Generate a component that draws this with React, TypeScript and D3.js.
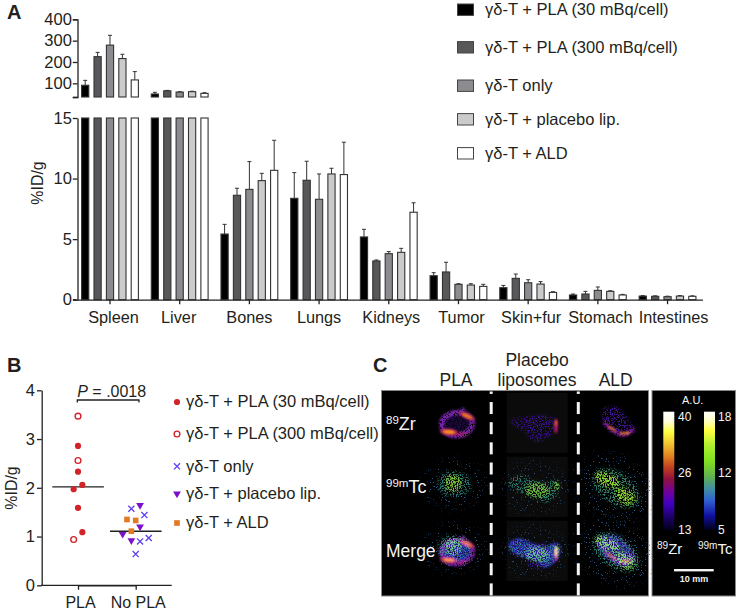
import React, { useEffect, useRef } from "react";
import * as d3 from "d3";

// ---------- data ----------
const organs = ["Spleen", "Liver", "Bones", "Lungs", "Kidneys", "Tumor", "Skin+fur", "Stomach", "Intestines"];
const seriesNames = ["γδ-T + PLA (30 mBq/cell)", "γδ-T + PLA (300 mBq/cell)", "γδ-T only", "γδ-T + placebo lip.", "γδ-T + ALD"];
const barFills = ["#000000", "#58585a", "#8c8c90", "#cbcbcb", "#ffffff"];

const pla30 = [91, 50, 5.42, 8.37, 5.18, 1.98, 0.99, 0.39, 0.3];
const pla300 = [225, 65, 8.62, 9.86, 3.2, 2.29, 1.76, 0.47, 0.28];
const tOnly = [279, 59, 9.11, 8.29, 3.8, 1.27, 1.4, 0.77, 0.25];
const placebo = [216, 61, 9.83, 10.38, 3.91, 1.21, 1.29, 0.69, 0.3];
const ald = [116, 53, 10.68, 10.33, 7.22, 1.1, 0.6, 0.39, 0.28];
const pla30Top = [114, 58, 6.22, 10.49, 5.81, 2.23, 1.18, 0.47, 0.34];
const pla300Top = [245, 67, 9.2, 11.43, 3.28, 3.09, 2.12, 0.69, 0.32];
const tOnlyTop = [325, 61, 11.4, 10.38, 3.97, 1.32, 1.65, 1.05, 0.29];
const placeboTop = [236, 63, 10.43, 10.85, 4.24, 1.32, 1.49, 0.74, 0.34];
const aldTop = [155, 56, 13.16, 13.0, 8.0, 1.27, 0.66, 0.44, 0.32];
const barValues = [pla30, pla300, tOnly, placebo, ald];
const barTops = [pla30Top, pla300Top, tOnlyTop, placeboTop, aldTop];

const upperTicks = [36, 100, 200, 300, 400];
const lowerTicks = [0, 5, 10, 15];
const organLabelNudge = [3.5, -1, 0, 0, 2.5, 3, 3, 2.5, 6];

const scatterCats = ["PLA", "No PLA"];
const scatterTicks = [0, 1, 2, 3, 4];
const scatterMeans = [2.02, 1.11];
const scatterPValue = ".0018";
// [category, swarm slot, value]
const ptsPla30: [string, number, number][] = [["PLA", 0, 2.86], ["PLA", 0, 2.33], ["PLA", 1, 2.06], ["PLA", -1, 1.97], ["PLA", 0, 1.59], ["PLA", 1, 1.09]];
const ptsPla300: [string, number, number][] = [["PLA", 0, 3.47], ["PLA", 0, 2.56], ["PLA", -1, 0.94]];
const ptsOnly: [string, number, number][] = [["No PLA", -1, 1.57], ["No PLA", 2, 1.44], ["No PLA", 1, 0.9], ["No PLA", 3, 0.97], ["No PLA", 0, 0.64]];
const ptsPlacebo: [string, number, number][] = [["No PLA", 1, 1.64], ["No PLA", 1, 1.2], ["No PLA", -3, 1.05], ["No PLA", -1, 0.92]];
const ptsAld: [string, number, number][] = [["No PLA", -2, 1.35], ["No PLA", 0, 1.33], ["No PLA", -1, 1.11]];

const zrStops: [number, string][] = [[0, "#ffffff"], [0.08, "#fffde0"], [0.17, "#ffff40"], [0.28, "#f0c030"], [0.38, "#e08020"], [0.47, "#c04020"], [0.57, "#901040"], [0.68, "#7000a0"], [0.78, "#4000c0"], [0.88, "#200070"], [1, "#000018"]];
const tcStops: [number, string][] = [[0, "#ffffff"], [0.08, "#ffffc0"], [0.16, "#ffff40"], [0.28, "#b0f030"], [0.42, "#80e020"], [0.55, "#60b050"], [0.65, "#4090a0"], [0.75, "#3060d0"], [0.88, "#1010a0"], [1, "#000018"]];
const zrBarLabels = ["40", "26", "13"];
const tcBarLabels = ["18", "12", "5"];

// Sketched shapes of the three imaging columns (the photograph is not data; these are blurred, speckled outlines).
type Blob =
  | { k: "e"; c: [number, number]; r: [number, number]; rot?: number; col: string; f: string; ring?: number }
  | { k: "p"; pts: [number, number][]; col: string; f: string }
  | { k: "l"; pts: [number, number][]; col: string; f: string; w: number };

const zrBlobs: Blob[] = [
  { k: "e", c: [457, 424], r: [15, 11], col: "#1a0838", f: "dense1" },
  { k: "e", c: [457, 424], r: [15.5, 11.5], rot: -5, col: "#7a24b0", f: "dense05", ring: 5.5 },
  { k: "e", c: [463, 410.5], r: [2.5, 3], col: "#6a28a0", f: "dense05" },
  { k: "e", c: [461, 434], r: [7, 2], col: "#a01c70", f: "dense05" },
  { k: "e", c: [449, 432], r: [9, 3.2], rot: 5, col: "#b82860", f: "soft" },
  { k: "e", c: [449, 432], r: [6, 1.8], rot: 5, col: "#ffa010", f: "soft" },
  { k: "e", c: [467, 416], r: [8.5, 2.8], rot: 25, col: "#b02860", f: "soft" },
  { k: "e", c: [467, 416], r: [5.5, 1.5], rot: 25, col: "#f08c10", f: "soft" },
  { k: "p", pts: [[510, 421], [530, 416], [552, 417], [556, 428], [547, 438], [535, 442], [524, 432]], col: "#38108a", f: "sparse05" },
  { k: "e", c: [556, 426], r: [1.8, 7.5], col: "#b81c70", f: "soft" },
  { k: "e", c: [556, 423], r: [0.9, 3], col: "#f07820", f: "soft" },
  { k: "p", pts: [[603, 409], [617, 407], [628, 419], [634, 430], [625, 435], [613, 431], [604, 424]], col: "#401490", f: "sparse05" },
  { k: "l", pts: [[605, 423], [612, 430], [624, 434.5], [633, 430]], col: "#7a1a98", f: "dense05", w: 4.5 },
  { k: "l", pts: [[609, 426.5], [615, 430.5]], col: "#e87c18", f: "soft", w: 2 },
  { k: "l", pts: [[621, 433.5], [629, 433]], col: "#f09018", f: "soft", w: 2.2 },
];
const tcBlobs: Blob[] = [
  { k: "e", c: [454, 484], r: [33, 25], col: "#2a5a98", f: "faint" },
  { k: "e", c: [454, 484], r: [17, 13], col: "#2a7a78", f: "sparse05" },
  { k: "e", c: [453, 483], r: [8.5, 8.5], col: "#78c038", f: "mid" },
  { k: "e", c: [535, 487], r: [34, 27], col: "#2a5a98", f: "faint" },
  { k: "p", pts: [[508, 482], [518, 475], [542, 482], [558, 480], [560, 490], [545, 503], [535, 497], [515, 490]], col: "#2a7e70", f: "sparse05" },
  { k: "e", c: [537, 490], r: [12, 7.5], col: "#68b840", f: "mid" },
  { k: "e", c: [556.5, 486], r: [2.2, 4.5], col: "#78c830", f: "mid" },
  { k: "e", c: [614, 488], r: [42, 32], rot: 30, col: "#2a5a98", f: "faint" },
  { k: "e", c: [616, 488], r: [27, 16], rot: 35, col: "#30806a", f: "sparse05" },
  { k: "e", c: [607, 480], r: [13, 6.5], rot: 25, col: "#88d030", f: "mid" },
  { k: "e", c: [625, 496], r: [11, 7.5], rot: 35, col: "#88d030", f: "mid" },
];
const mergeBlobs: Blob[] = [
  { k: "e", c: [456, 551], r: [15, 11.5], col: "#2428a8", f: "dense1" },
  { k: "p", pts: [[508, 544], [518, 538], [542, 546], [558, 543], [560, 556], [545, 568], [535, 561], [515, 554]], col: "#2a24a8", f: "dense1" },
  { k: "e", c: [556, 552], r: [1.6, 5.5], col: "#ffe8b0", f: "soft" },
  { k: "e", c: [616, 551], r: [22, 12], rot: 35, col: "#30249a", f: "dense1" },
];

// ---------- geometry ----------
const W = 736;
const H = 611;
const FONT = "'Liberation Sans', Arial, sans-serif";
const INK = "#231f20";
const RED = "#d2232a";
const BLUE = "#5b3ff0";
const PURPLE = "#7a10c8";
const ORANGE = "#e07b24";

const xOrg = d3.scaleBand<string>().domain(organs).range([75.15, 702.4]);
const xSer = d3.scaleBand<string>().domain(seriesNames).range([-31, 31]);
const yUp = d3.scaleLinear().domain([36, 400]).range([97, 19.3]);
const yLow = d3.scaleLinear().domain([0, 15]).range([299.7, 118]);
const xSc = d3.scalePoint<string>().domain(scatterCats).range([78, 135.7]);
const ySc = d3.scaleLinear().domain([0, 4]).range([585.3, 390.3]);
const SLOT = 4.35;

function Axis({ axis, transform }: { axis: any; transform: string }) {
  const ref = useRef<SVGGElement>(null);
  useEffect(() => {
    const g = d3.select(ref.current!);
    g.call(axis);
    g.selectAll("path,line").attr("stroke", "#222").attr("stroke-width", 1.3);
    g.selectAll("text").attr("fill", INK).attr("font-family", FONT).attr("font-size", 16.5);
  }, [axis]);
  return <g ref={ref} transform={transform} />;
}

function BlobMark({ b }: { b: Blob }) {
  if (b.k === "e") {
    const t = `rotate(${b.rot ?? 0} ${b.c[0]} ${b.c[1]})`;
    return (
      <g filter={`url(#${b.f})`}>
        <ellipse cx={b.c[0]} cy={b.c[1]} rx={b.r[0]} ry={b.r[1]} transform={t}
          fill={b.ring ? "none" : b.col} stroke={b.ring ? b.col : "none"} strokeWidth={b.ring ?? 0} />
      </g>
    );
  }
  if (b.k === "p") {
    const d = d3.line().curve(d3.curveCatmullRomClosed)(b.pts)!;
    return <g filter={`url(#${b.f})`}><path d={d} fill={b.col} /></g>;
  }
  const d = d3.line().curve(d3.curveCatmullRom)(b.pts)!;
  return <g filter={`url(#${b.f})`}><path d={d} fill="none" stroke={b.col} strokeWidth={b.w} strokeLinecap="round" /></g>;
}

function SpeckFilter({ id, blur, k, c, freq = 0.75 }: { id: string; blur: number; k: number; c: number; freq?: number }) {
  return (
    <filter id={id} filterUnits="userSpaceOnUse" x={300} y={200} width={500} height={500} colorInterpolationFilters="sRGB">
      <feGaussianBlur in="SourceGraphic" stdDeviation={blur} result="b" />
      <feTurbulence type="fractalNoise" baseFrequency={freq} numOctaves={2} seed={4} result="n" />
      <feColorMatrix in="n" type="matrix" values={`0 0 0 0 0  0 0 0 0 0  0 0 0 0 0  0 0 0 ${k} ${c}`} result="m" />
      <feComposite in="b" in2="m" operator="in" />
    </filter>
  );
}

function Marker({ kind, x, y }: { kind: string; x: number; y: number }) {
  const t = `translate(${x},${y})`;
  if (kind === "filled") return <path transform={t} d={d3.symbol(d3.symbolCircle, 30)()!} fill={RED} />;
  if (kind === "open") return <path transform={t} d={d3.symbol(d3.symbolCircle, 26)()!} fill="#fff" stroke={RED} strokeWidth={1.4} />;
  if (kind === "x") return <path transform={t} d={d3.symbol(d3.symbolTimes, 26)()!} fill="none" stroke={BLUE} strokeWidth={1.3} />;
  if (kind === "tri") return <path transform={`${t} rotate(180)`} d={d3.symbol(d3.symbolTriangle, 26)()!} fill={PURPLE} />;
  return <path transform={t} d={d3.symbol(d3.symbolSquare, 32)()!} fill={ORANGE} />;
}

const markerKinds = ["filled", "open", "x", "tri", "square"];
const scatterSets = [ptsPla30, ptsPla300, ptsOnly, ptsPlacebo, ptsAld];
const legendAY = [9.7, 47.3, 85.7, 119.3, 153.3];
const legendBY = [402, 434, 466.3, 493.7, 523];

const axUp = d3.axisLeft(yUp).tickValues(upperTicks).tickSize(4.7).tickPadding(1).tickFormat((d) => (d === 36 ? "" : String(d)));
const axLow = d3.axisLeft(yLow).tickValues(lowerTicks).tickSize(4.7).tickPadding(1).tickSizeOuter(0);
const axOrg = d3.axisBottom(xOrg).tickSize(4.5).tickSizeOuter(0).tickFormat(() => "");
const axScY = d3.axisLeft(ySc).tickValues(scatterTicks).tickFormat(d3.format("d")).tickSize(4.7).tickPadding(2).tickSizeOuter(0);
const axScX = d3.axisBottom(xSc).tickSize(4.5).tickSizeOuter(0).tickFormat(() => "");

export default function App() {
  const zrRow = zrBlobs.map((b, i) => <BlobMark key={i} b={b} />);
  const tcRow = tcBlobs.map((b, i) => <BlobMark key={i} b={b} />);
  const dashes = d3.range(11).map((i) => 381.9 + i * 20.15);
  const panelTop = 391;
  const panelBot = 596;
  const text = { fontFamily: FONT, fill: INK } as const;
  const white = { fontFamily: FONT, fill: "#f4f4f4" } as const;
  return (
    <svg width={W} height={H} viewBox={`0 0 ${W} ${H}`} style={{ position: "absolute", left: 0, top: 0, background: "#fff" }}>
      <defs>
        <SpeckFilter id="dense1" blur={1.2} k={7} c={-2.4} />
        <SpeckFilter id="dense05" blur={0.8} k={6} c={-1.9} />
        <SpeckFilter id="mid" blur={1.6} k={7} c={-2.9} />
        <SpeckFilter id="sparse05" blur={1.8} k={8} c={-3.9} />
        <SpeckFilter id="faint" blur={5} k={14} c={-9.4} />
        <filter id="soft" filterUnits="userSpaceOnUse" x={300} y={200} width={500} height={500} colorInterpolationFilters="sRGB">
          <feGaussianBlur stdDeviation={0.8} />
        </filter>
        <linearGradient id="zrBar" x1="0" y1="0" x2="0" y2="1">
          {zrStops.map(([o, c]) => <stop key={o} offset={o} stopColor={c} />)}
        </linearGradient>
        <linearGradient id="tcBar" x1="0" y1="0" x2="0" y2="1">
          {tcStops.map(([o, c]) => <stop key={o} offset={o} stopColor={c} />)}
        </linearGradient>
      </defs>

      {/* Panel A */}
      <text x={7} y={19} fontSize={20} fontWeight="bold" {...text}>A</text>
      {seriesNames.map((s, si) =>
        organs.map((o, oi) => {
          const x = xOrg(o)! + xOrg.bandwidth() / 2 + xSer(s)! + xSer.bandwidth() / 2;
          const v = barValues[si][oi];
          const top = barTops[si][oi];
          const broken = v > 15;
          const yTopBar = broken ? yUp(v) : yLow(v);
          const yErr = broken ? yUp(top) : yLow(top);
          return (
            <g key={s + o}>
              <line x1={x} x2={x} y1={yTopBar} y2={yErr} stroke="#333" strokeWidth={1} />
              <line x1={x - 2} x2={x + 2} y1={yErr} y2={yErr} stroke="#333" strokeWidth={1} />
              {broken && (
                <rect x={x - 3.6} width={7.2} y={yUp(v)} height={yUp(36) - yUp(v)} fill={barFills[si]} stroke="#333" strokeWidth={1.1} />
              )}
              <rect x={x - 3.6} width={7.2} y={broken ? yLow(15) : yLow(v)} height={yLow(0) - (broken ? yLow(15) : yLow(v))} fill={barFills[si]} stroke="#333" strokeWidth={1.1} />
            </g>
          );
        })
      )}
      <Axis axis={axUp} transform="translate(77.5,0)" />
      <Axis axis={axLow} transform="translate(77.5,0)" />
      <Axis axis={axOrg} transform={`translate(0,${yLow(0)})`} />
      <line x1={73} x2={76} y1={yLow(0)} y2={yLow(0)} stroke="#222" strokeWidth={1.3} />
      {organs.map((o, i) => (
        <text key={o} x={xOrg(o)! + xOrg.bandwidth() / 2 + organLabelNudge[i]} y={323.3} fontSize={16.3} textAnchor="middle" {...text}>{o}</text>
      ))}
      <text transform="translate(43,183) rotate(-90)" fontSize={15.9} textAnchor="middle" {...text}>%ID/g</text>
      {seriesNames.map((s, i) => (
        <g key={s}>
          <rect x={457.5} width={16} y={legendAY[i] - 5.7} height={11.4} fill={barFills[i]} stroke="#444" strokeWidth={1} />
          <text x={485} y={legendAY[i] + 5.4} fontSize={16.5} {...text}>{s}</text>
        </g>
      ))}

      {/* Panel B */}
      <text x={7} y={372} fontSize={20} fontWeight="bold" {...text}>B</text>
      <Axis axis={axScY} transform="translate(41.7,0)" />
      <Axis axis={axScX} transform={`translate(0,${ySc(0)})`} />
      <line x1={41} x2={171.7} y1={ySc(0)} y2={ySc(0)} stroke="#222" strokeWidth={1.3} />
      {scatterCats.map((c) => (
        <text key={c} x={xSc(c)! + 2.5} y={608} fontSize={16} textAnchor="middle" {...text}>{c}</text>
      ))}
      <text transform="translate(16.7,488) rotate(-90)" fontSize={15.9} textAnchor="middle" {...text}>%ID/g</text>
      <path d="M77.3,402.5V400H139V402.5" fill="none" stroke="#222" strokeWidth={1.3} />
      <text x={111.7} y={396.5} fontSize={16} textAnchor="middle" {...text}>
        <tspan fontStyle="italic">P</tspan> = {scatterPValue}
      </text>
      {scatterCats.map((c, i) => (
        <line key={c} x1={xSc(c)! - 25.7} x2={xSc(c)! + 25.9} y1={ySc(scatterMeans[i])} y2={ySc(scatterMeans[i])} stroke="#222" strokeWidth={1.4} />
      ))}
      {scatterSets.map((set, si) =>
        set.map(([c, slot, v], i) => <Marker key={`${si}-${i}`} kind={markerKinds[si]} x={xSc(c)! + slot * SLOT} y={ySc(v)} />)
      )}
      {seriesNames.map((s, i) => (
        <g key={s}>
          <Marker kind={markerKinds[i]} x={177} y={legendBY[i]} />
          <text x={186} y={legendBY[i] + 5.4} fontSize={16.5} {...text}>{s}</text>
        </g>
      ))}

      {/* Panel C */}
      <text x={373} y={372} fontSize={20} fontWeight="bold" {...text}>C</text>
      <text x={456} y={386} fontSize={17.5} textAnchor="middle" {...text}>PLA</text>
      <text x={537} y={365.7} fontSize={17.5} textAnchor="middle" {...text}>Placebo</text>
      <text x={537} y={386} fontSize={17.5} textAnchor="middle" {...text}>liposomes</text>
      <text x={615.7} y={386} fontSize={17.5} textAnchor="middle" {...text}>ALD</text>

      <rect x={381.5} y={390.5} width={267} height={205.5} fill="#000" stroke="#8a8a8a" strokeWidth={1} />
      <rect x={652} y={390.5} width={83.5} height={205.5} fill="#000" stroke="#8a8a8a" strokeWidth={1} />
      {[392.7, 456.7, 520.7].map((y) => <rect key={y} x={506.7} y={y} width={61} height={60.3} fill="#0b0b0b" />)}

      <g>{zrRow}</g>
      <g>{tcRow}</g>
      <g style={{ isolation: "isolate" }}>
        {mergeBlobs.map((b, i) => <g key={i}><BlobMark b={b} /></g>)}
        <g transform="translate(0,64)" style={{ mixBlendMode: "lighten" }}>{tcRow}</g>
        <g transform="translate(0,128)" style={{ mixBlendMode: "lighten" }}>{zrRow}</g>
      </g>

      {[491.2, 578.3].map((x) =>
        dashes.map((y) => {
          const y0 = Math.max(y, panelTop + 0.5);
          const y1 = Math.min(y + 12, panelBot - 0.5);
          return <rect key={`${x}-${y}`} x={x - 1.5} width={3} y={y0} height={y1 - y0} fill="#f4f4f4" />;
        })
      )}

      <text x={386} y={430} fontSize={18} {...white}>
        <tspan fontSize={11.5} dy={-6}>89</tspan><tspan dy={6}>Zr</tspan>
      </text>
      <text x={386} y={493} fontSize={18} {...white}>
        <tspan fontSize={11.5} dy={-6}>99m</tspan><tspan dy={6}>Tc</tspan>
      </text>
      <text x={386} y={557} fontSize={17.5} {...white}>Merge</text>

      <rect x={663.3} y={411.7} width={11} height={118.3} fill="url(#zrBar)" />
      <rect x={704} y={411.7} width={11} height={118.3} fill="url(#tcBar)" />
      <text x={692.7} y={404} fontSize={11} textAnchor="middle" {...white}>A.U.</text>
      {zrBarLabels.map((t, i) => (
        <text key={t} x={678} y={[420.5, 476.5, 534][i]} fontSize={12} {...white}>{t}</text>
      ))}
      {tcBarLabels.map((t, i) => (
        <text key={t} x={718} y={[420.5, 476.5, 534][i]} fontSize={12} {...white}>{t}</text>
      ))}
      <text x={657} y={553.5} fontSize={15} {...white}>
        <tspan fontSize={10} dy={-5}>89</tspan><tspan dy={5}>Zr</tspan>
      </text>
      <text x={698} y={553.5} fontSize={15} {...white}>
        <tspan fontSize={10} dy={-5}>99m</tspan><tspan dy={5}>Tc</tspan>
      </text>
      <rect x={674} y={569} width={39.7} height={2.4} fill="#f4f4f4" />
      <text x={694} y={582} fontSize={9} fontWeight="bold" textAnchor="middle" {...white}>10 mm</text>
    </svg>
  );
}
